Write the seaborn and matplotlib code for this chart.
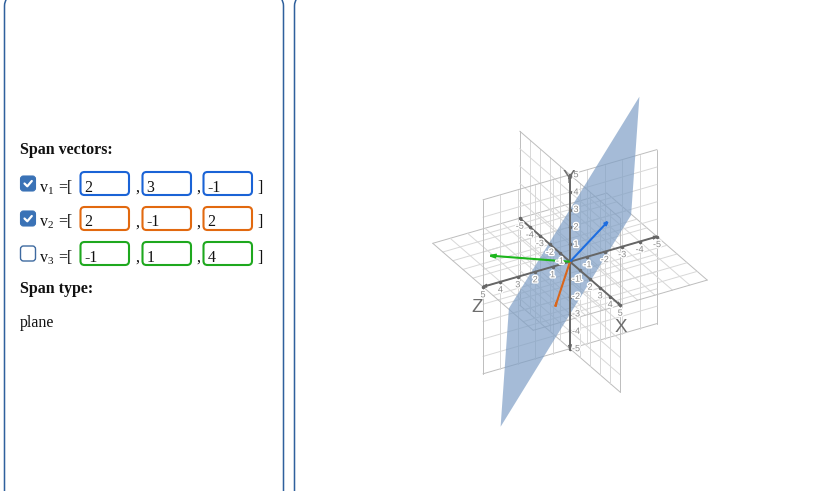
import numpy as np
import matplotlib
matplotlib.use('Agg')
import matplotlib.pyplot as plt
import seaborn as sns
from matplotlib.colors import to_rgba
from matplotlib.patches import FancyBboxPatch
from matplotlib import patheffects as pe
from matplotlib.transforms import offset_copy
from mpl_toolkits.mplot3d import proj3d
from mpl_toolkits.mplot3d.art3d import Poly3DCollection

W, H = 839, 491

# span vectors as typed in the input boxes
v1 = [2, 3, -1]
v2 = [2, -1, 2]
v3 = [-1, 1, 4]
vectors = [v1, v2, v3]
vec_subs = ['1', '2', '3']
checked = [True, True, False]
span_type = 'plane'
ticks = [-5, -4, -3, -2, -1, 0, 1, 2, 3, 4, 5]
axis_names = ['X', 'Y', 'Z']

vec_colors = ['#1d6de0', '#d9661c', '#1cb61c']
box_colors = ['#1a63d6', '#e2690f', '#1ea81e']
plane_color = '#7f9fc6'
axis_col = '#666666'

sns.set_theme(style='white')
plt.rcParams['font.family'] = ['Liberation Serif', 'DejaVu Serif']
SANS = ['Liberation Sans', 'DejaVu Sans']

fig = plt.figure(figsize=(W / 100, H / 100), dpi=100)
fig.patch.set_facecolor('white')

# ---- page layer in pixel units ----
ui = fig.add_axes([0, 0, 1, 1])
ui.set_xlim(0, W)
ui.set_ylim(H, 0)
ui.axis('off')

border = '#2f609d'
for x0, w in [(4.5, 279), (294.5, 620)]:
    ui.add_patch(FancyBboxPatch((x0, -4), w, H + 20,
                                boxstyle='round,pad=0,rounding_size=10',
                                fc='none', ec=border, lw=1.1))

txt = dict(fontsize=11.5, va='baseline', ha='left', color='#111111')
ui.text(20, 154, 'Span vectors:', fontweight='bold', **txt)

box_x = [80.5, 142.5, 203.5]
comma_x = [135, 196]
for i, vec in enumerate(vectors):
    yc = 183.5 + 35 * i
    if checked[i]:
        ui.add_patch(FancyBboxPatch((20.5, yc - 7.5), 15, 15,
                                    boxstyle='round,pad=0,rounding_size=3',
                                    fc='#3a72b6', ec='#3a72b6', lw=0.8))
        ui.plot([24.5, 27.3, 31.8], [yc, yc + 2.8, yc - 2.5], color='white',
                lw=1.6, solid_capstyle='round', solid_joinstyle='round')
    else:
        ui.add_patch(FancyBboxPatch((20.5, yc - 7.5), 15, 15,
                                    boxstyle='round,pad=0,rounding_size=3',
                                    fc='white', ec='#3e6aa0', lw=1.0))
    ui.text(40.5, yc + 8, 'v', **txt)
    ui.text(47.5, yc + 10, vec_subs[i], fontsize=8, va='baseline', ha='left', color='#111111')
    ui.text(58.5, yc + 8, '=[', **txt)
    for j, val in enumerate(vec):
        ui.add_patch(FancyBboxPatch((box_x[j], yc - 11.5), 48.5, 23,
                                    boxstyle='round,pad=0,rounding_size=4',
                                    fc='white', ec=box_colors[i], lw=1.5))
        ui.text(box_x[j] + 4, yc + 8, str(val), **txt)
    for cx in comma_x:
        ui.text(cx, yc + 8, ',', **txt)
    ui.text(257.5, yc + 8, ']', **txt)

ui.text(20, 293, 'Span type:', fontweight='bold', **txt)
ui.text(20, 327, span_type, **txt)

# ---- 3D view ----
side = 420
cx0, cy0 = 570.0, H - 261.7
ax = fig.add_axes([(cx0 - side / 2) / W, (cy0 - side / 2) / H, side / W, side / H],
                  projection='3d', proj_type='ortho', computed_zorder=False)
lo, hi = ticks[0], ticks[-1]
ax.set_xlim(lo, hi)
ax.set_ylim(lo, hi)
ax.set_zlim(lo, hi)
zoom = 1.0
ax.set_box_aspect((1, 1, 1), zoom=zoom)
ax.view_init(elev=30, azim=60)
ax.set_axis_off()
ax.patch.set_alpha(0)


def m(p):
    # data (x, y, z) with y up -> matplotlib 3d order (z, x, y)
    return p[2], p[0], p[1]


def seg(a, b, **kw):
    pa, pb = m(a), m(b)
    ax.plot([pa[0], pb[0]], [pa[1], pb[1]], [pa[2], pb[2]], **kw)


# grid planes
for k in ticks:
    c = '#bdbdbd' if k in (lo, hi) else '#d8d8d8'
    kw = dict(color=c, lw=0.7, zorder=1)
    seg((k, 0, lo), (k, 0, hi), **kw)
    seg((lo, 0, k), (hi, 0, k), **kw)
    seg((k, lo, 0), (k, hi, 0), **kw)
    seg((lo, k, 0), (hi, k, 0), **kw)
    seg((0, lo, k), (0, hi, k), **kw)
    seg((0, k, lo), (0, k, hi), **kw)

# span plane of the checked vectors
n = np.cross(v1, v2)
corners = []
for x, y in [(lo, lo), (hi, lo), (hi, hi), (lo, hi)]:
    z = -(n[0] * x + n[1] * y) / n[2]
    corners.append(m((x, y, z)))
ax.add_collection3d(Poly3DCollection([corners], facecolors=[to_rgba(plane_color, 0.7)],
                                     edgecolors='none', zorder=2))

# coordinate axes
lab_off = [(0, -8), (6, 0), (0, -8)]
name_off = [(1, -22), (-1, -4), (-6, -21)]
for i in range(3):
    d = [0, 0, 0]
    d[i] = 1
    for s in (1, -1):
        tip = m([s * hi * c for c in d])
        ax.quiver(0, 0, 0, *tip, color=axis_col, lw=1.4, arrow_length_ratio=0.05, zorder=3)
    pts = [m([t * c for c in d]) for t in ticks]
    xs, ys, zs = zip(*pts)
    ax.plot(xs, ys, zs, ls='none', marker='o', ms=1.5, color=axis_col, zorder=3)
    tr = offset_copy(ax.transData, fig=fig, x=lab_off[i][0], y=lab_off[i][1], units='dots')
    for t in ticks:
        if t == 0:
            continue
        p = m([t * c for c in d])
        ax.text(p[0], p[1], p[2], str(t), transform=tr, fontsize=6.5, color='#8a8a8a',
                ha='center', va='center', family=SANS, zorder=5,
                path_effects=[pe.withStroke(linewidth=2, foreground='white')])
    trn = offset_copy(ax.transData, fig=fig, x=name_off[i][0], y=name_off[i][1], units='dots')
    p = m([hi * c for c in d])
    ax.text(p[0], p[1], p[2], axis_names[i], transform=trn, fontsize=13.5, color='#6e6e6e',
            ha='center', va='center', family=SANS, zorder=5)

# the three vectors
for v, c in zip(vectors, vec_colors):
    ax.quiver(0, 0, 0, *m(v), color=c, lw=1.5, arrow_length_ratio=0.08, zorder=4)


def to_px(p):
    xs, ys, _ = proj3d.proj_transform(*m(p), ax.M)
    return ax.transData.transform((xs, ys))


# fit the view: 5 units of y ~ 87 px, origin at the page position
for _ in range(2):
    fig.canvas.draw()
    o = to_px((0, 0, 0))
    top = to_px((0, hi, 0))
    zoom *= 87.0 / (top[1] - o[1])
    ax.set_box_aspect((1, 1, 1), zoom=zoom)
    fig.canvas.draw()
    o = to_px((0, 0, 0))
    pos = ax.get_position(original=True)
    ax.set_position([pos.x0 + (cx0 - o[0]) / W, pos.y0 + (cy0 - o[1]) / H,
                     pos.width, pos.height])

fig.savefig('out.png', dpi=100)
